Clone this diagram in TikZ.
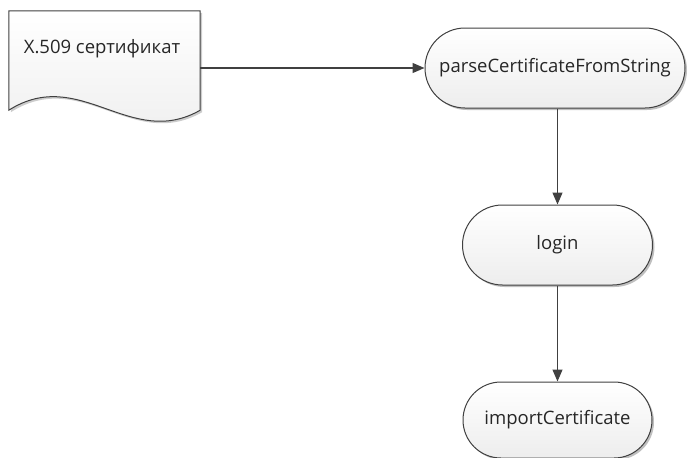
\documentclass[tikz,border=0pt]{standalone}
\usepackage{fontspec}
\setmainfont{Open Sans}
\usetikzlibrary{arrows.meta,shadows,shapes.misc}
\definecolor{ln}{HTML}{404040}
\tikzset{
  x=1pt,y=-1pt,
  lbl/.style={font=\fontsize{18.5}{20}\selectfont, text=black!85},
  term/.style={rounded rectangle, draw=ln, line width=1pt, top color=white, bottom color=black!7,
    drop shadow={shadow xshift=2pt, shadow yshift=-2pt, opacity=0.25, fill=black},
    lbl, inner sep=0pt},
  conn/.style={draw=ln, line width=1.2pt, -{Triangle[length=12pt,width=10pt]}},
}
\begin{document}
\begin{tikzpicture}
\useasboundingbox (0,0) rectangle (689,458);
\node[minimum width=191pt, minimum height=99pt, inner sep=0pt] (doc) at (104.5,60.5) {};
\fill[black, opacity=0.2] ([xshift=2pt,yshift=-2pt]doc.north west) -- ([xshift=2pt,yshift=-2pt]doc.north east) -- ([xshift=2pt,yshift=-2pt]doc.south east)
  .. controls ++(-70,40) and ++(71,-45) .. ([xshift=2pt,yshift=-2pt]doc.south west) -- cycle;
\draw[draw=ln, line width=1pt, top color=white, bottom color=black!7] (doc.north west) -- (doc.north east) -- (doc.south east)
  .. controls ++(-70,40) and ++(71,-45) .. (doc.south west) -- cycle;
\node[lbl] (doctext) at (102,49) {X.509 сертификат};
\node[term, minimum width=260pt, minimum height=80pt] (parse) at (555,68) {parseCertificateFromString};
\node[term, minimum width=190pt, minimum height=80pt] (login) at (557.5,245) {login};
\node[term, minimum width=189pt, minimum height=76pt] (import) at (557.5,420) {importCertificate};
\draw[conn] (doc.east |- parse.west) -- (parse.west);
\draw[conn] (parse.south -| login.north) -- (login.north);
\draw[conn] (login.south) -- (import.north);
\end{tikzpicture}
\end{document}
